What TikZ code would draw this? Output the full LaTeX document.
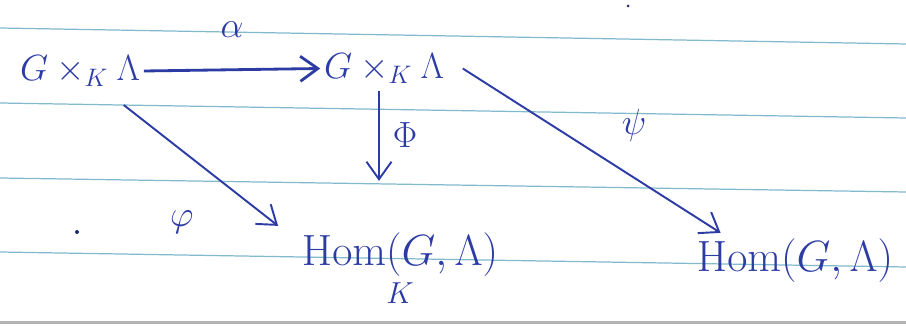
\documentclass[tikz,border=0pt]{standalone}
\usepackage{amsmath}
\usetikzlibrary{arrows.meta}
\definecolor{ink}{RGB}{45,60,165}
\definecolor{ruling}{RGB}{130,185,205}
\tikzset{
  obj/.style={text=ink,font=\fontsize{24}{28}\selectfont,inner sep=2pt},
  lab/.style={text=ink,font=\fontsize{22}{26}\selectfont},
  map/.style={draw=ink,line width=1.1pt,-{Straight Barb[length=3.5mm,width=5mm]}},
  rule/.style={draw=ruling,line width=0.7pt}
}
\begin{document}
\begin{tikzpicture}
                \useasboundingbox (0,0) rectangle (18.12,6.52);
                \fill[white] (0,0) rectangle (18.12,6.52);

                % ===== lined paper =====
                \draw[rule] (0,5.96) -- (18.12,5.64);
                \draw[rule] (0,4.46) -- (18.12,4.16);
                \draw[rule] (0,2.96) -- (18.12,2.68);
                \draw[rule] (0,1.48) -- (18.12,1.18);
                \draw[gray!60,line width=1.5pt] (0,0.07) -- (18.12,0.07);

                % ===== objects =====
                \node[obj,font=\fontsize{22}{26}\selectfont] (src) at (1.6,5.1) {$G\times_{K}\Lambda$};
                \node[obj,font=\fontsize{22}{26}\selectfont] (mid) at (7.68,5.15) {$G\times_{K}\Lambda$};
                \node[obj,anchor=base] (homK) at (8.0,1.22) {$\underset{K}{\mathrm{Hom}(G,\Lambda)}$};
                \node[obj,anchor=base] (hom) at (15.9,1.08) {$\mathrm{Hom}(G,\Lambda)$};

                % ===== maps =====
                \draw[map,line width=1.6pt] (src.east) -- (mid.west)
                  node[lab,midway,above=14pt] (alpha) {$\alpha$};
                \draw[map,shorten <=2pt,shorten >=0.95cm] ([xshift=-0.1cm]mid.south) -- ([xshift=-0.1cm]mid.south |- homK.north)
                  node[lab,midway,right=4pt,yshift=0.45cm] (Phi) {$\Phi$};
                \draw[map] ([xshift=-0.4cm,yshift=-0.3cm]src.south east) -- ([xshift=-0.4cm,yshift=0.05cm]homK.north west)
                  node[lab,pos=0.7,below left=8pt,xshift=-0.35cm] (phi) {$\varphi$};
                \draw[map] ([xshift=0.3cm]mid.east) -- ([xshift=0.55cm,yshift=0.05cm]hom.north west)
                  node[lab,pos=0.55,above right=6pt] (psi) {$\psi$};

                % pen dots
                \fill[ink!70!black] (1.54,1.88) circle (0.04);
                \fill[ink!70!black] (12.56,6.4) circle (0.03);

\end{tikzpicture}
\end{document}
